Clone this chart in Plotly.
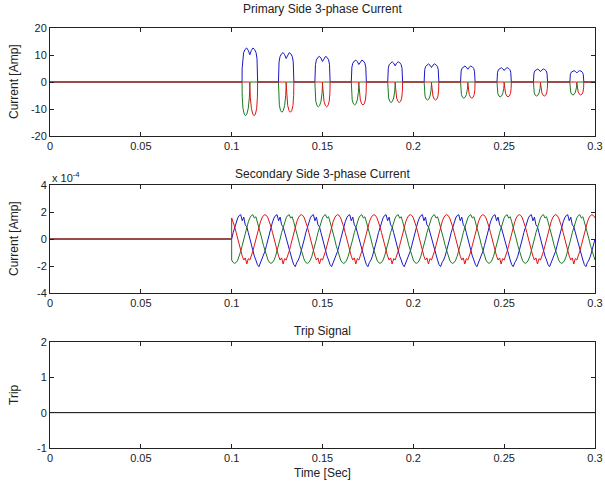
import plotly.graph_objects as go

# ---------------- data ----------------
T_END = 0.3

# Primary side: inrush-like pulses, one per cycle
PULSE_CENTERS = [0.110, 0.130, 0.150, 0.170, 0.190, 0.210, 0.230, 0.250, 0.270, 0.290]
PULSE_WIDTHS = [0.0086, 0.0085, 0.0084, 0.0083, 0.0082, 0.0081, 0.0080, 0.0079, 0.0078, 0.0077]
PULSE_POS_PEAK = [12.6, 10.9, 9.5, 8.1, 7.5, 6.7, 5.9, 5.3, 4.8, 4.2]     # blue phase
PULSE_NEG_PEAK = [12.5, 11.2, 9.2, 8.5, 7.6, 6.7, 6.0, 5.5, 5.2, 4.8]     # green / red phases

# normalised pulse outlines (u: -1..1 across pulse width, v: fraction of peak)
BLUE_U = [-1.0, -0.98, -0.92, -0.80, -0.60, -0.40, -0.20, 0.0, 0.20, 0.40, 0.60, 0.80, 0.92, 0.98, 1.0]
BLUE_V = [0.0, 0.40, 0.68, 0.86, 0.96, 1.00, 0.93, 0.80, 0.93, 1.00, 0.96, 0.86, 0.68, 0.40, 0.0]
GREEN_U = [-1.0, -0.97, -0.88, -0.72, -0.55, -0.38, -0.20, -0.06, 0.02]
GREEN_V = [0.0, -0.45, -0.78, -0.95, -1.00, -0.95, -0.78, -0.45, 0.0]
RED_U = [-0.02, 0.06, 0.20, 0.38, 0.55, 0.72, 0.88, 0.97, 1.0]
RED_V = [0.0, -0.45, -0.78, -0.95, -1.00, -0.95, -0.78, -0.45, 0.0]

# Secondary side: three-phase current (units of 1e-4 A), one cycle = 24 samples
SEC_START = 0.1
SEC_STEP = 0.02 / 24
SEC_SAMPLES = 241
SEC_CYCLE_BLUE = [1.80, 1.35, 1.62, 1.05, 0.90, 0.47, 0.00, -0.47, -0.90, -1.27, -1.56, -1.90,
                  -2.05, -1.74, -1.56, -1.27, -0.90, -0.47, 0.00, 0.47, 0.90, 1.27, 1.56, 1.74]
SEC_CYCLE_GREEN = [1.80, 1.55, 1.65, 1.27, 0.90, 0.47, 0.00, -0.47, -0.90, -1.27, -1.56, -1.74,
                   -1.80, -1.74, -1.56, -1.27, -0.90, -0.47, 0.00, 0.47, 0.90, 1.27, 1.56, 1.74]
SEC_CYCLE_RED = [1.80, 1.74, 1.56, 1.27, 0.90, 0.47, 0.00, -0.47, -0.90, -1.27, -1.56, -1.40,
                 -1.85, -1.45, -1.56, -1.27, -0.90, -0.47, 0.00, 0.47, 0.90, 1.27, 1.56, 1.74]
SEC_SHIFT_BLUE = 6
SEC_SHIFT_GREEN = 14
SEC_SHIFT_RED = -2
SEC_UNIT = 1e-4

# Trip signal
TRIP_T = [0.0, 0.3]
TRIP_V = [0.0, 0.0]

# tick labels
X_TICKS = [0, 0.05, 0.1, 0.15, 0.2, 0.25, 0.3]
X_TICKTEXT = ["0", "0.05", "0.1", "0.15", "0.2", "0.25", "0.3"]
P_TICKS = [-20, -10, 0, 10, 20]
S_TICKS = [-4, -2, 0, 2, 4]
T_TICKS = [-1, 0, 1, 2]

BLUE = "#1818c8"
GREEN = "#1a7a22"
RED = "#e01414"


def pulse_trace(u, v, peaks):
    xs, ys = [0.0], [0.0]
    for c, w, p in zip(PULSE_CENTERS, PULSE_WIDTHS, peaks):
        for ui, vi in zip(u, v):
            xs.append(c + ui * w / 2)
            ys.append(vi * p)
    xs.append(T_END)
    ys.append(0.0)
    return xs, ys


def sec_trace(table, shift):
    xs = [0.0, SEC_START]
    ys = [0.0, 0.0]
    for k in range(SEC_SAMPLES):
        xs.append(SEC_START + k * SEC_STEP)
        ys.append(table[(k - shift) % len(table)] * SEC_UNIT)
    return xs, ys


fig = go.Figure()
lw = 1

bx, by = pulse_trace(BLUE_U, BLUE_V, PULSE_POS_PEAK)
gx, gy = pulse_trace(GREEN_U, GREEN_V, PULSE_NEG_PEAK)
rx, ry = pulse_trace(RED_U, RED_V, PULSE_NEG_PEAK)
for xs, ys, col in [(bx, by, BLUE), (gx, gy, GREEN), (rx, ry, RED)]:
    fig.add_trace(go.Scatter(x=xs, y=ys, mode="lines", line=dict(color=col, width=lw),
                             xaxis="x", yaxis="y", showlegend=False, hoverinfo="skip"))

for table, shift, col in [(SEC_CYCLE_BLUE, SEC_SHIFT_BLUE, BLUE),
                          (SEC_CYCLE_GREEN, SEC_SHIFT_GREEN, GREEN),
                          (SEC_CYCLE_RED, SEC_SHIFT_RED, RED)]:
    xs, ys = sec_trace(table, shift)
    fig.add_trace(go.Scatter(x=xs, y=ys, mode="lines", line=dict(color=col, width=lw),
                             xaxis="x2", yaxis="y2", showlegend=False, hoverinfo="skip"))

fig.add_trace(go.Scatter(x=TRIP_T, y=TRIP_V, mode="lines", line=dict(color="black", width=1),
                         xaxis="x3", yaxis="y3", showlegend=False, hoverinfo="skip"))

W, H = 605, 484
XL, XR = 50, 595
panels = [(28, 136), (185, 293), (342, 448)]


def ydom(top, bot):
    return [1 - bot / H, 1 - top / H]


FAM = "Liberation Sans, Arial, sans-serif"
tick_font = dict(family=FAM, size=11, color="#222222")
text_font = dict(family=FAM, size=12, color="#222222")
axis_common = dict(showline=True, linecolor="#222222", linewidth=1, mirror="ticks",
                   ticks="inside", ticklen=4, tickcolor="#222222", showgrid=False,
                   zeroline=False, tickfont=tick_font, ticklabeloverflow="allow",
                   automargin=False)
XR_RANGE = [0, T_END * 1.00002]

layout = dict(
    width=W, height=H, autosize=False, margin=dict(l=0, r=0, t=0, b=0, pad=0),
    paper_bgcolor="white", plot_bgcolor="white", font=tick_font, showlegend=False,
    xaxis=dict(domain=[XL / W, XR / W], range=XR_RANGE, anchor="y",
               tickvals=X_TICKS, ticktext=X_TICKTEXT, **axis_common),
    yaxis=dict(domain=ydom(*panels[0]), range=[-20, 20], anchor="x",
               tickvals=P_TICKS, ticktext=[str(v) for v in P_TICKS], **axis_common),
    xaxis2=dict(domain=[XL / W, XR / W], range=XR_RANGE, anchor="y2",
                tickvals=X_TICKS, ticktext=X_TICKTEXT, **axis_common),
    yaxis2=dict(domain=ydom(*panels[1]), range=[-4 * SEC_UNIT, 4 * SEC_UNIT], anchor="x2",
                tickvals=[v * SEC_UNIT for v in S_TICKS], ticktext=[str(v) for v in S_TICKS],
                **axis_common),
    xaxis3=dict(domain=[XL / W, XR / W], range=XR_RANGE, anchor="y3",
                tickvals=X_TICKS, ticktext=X_TICKTEXT, **axis_common),
    yaxis3=dict(domain=ydom(*panels[2]), range=[-1, 2], anchor="x3",
                tickvals=T_TICKS, ticktext=[str(v) for v in T_TICKS], **axis_common),
)
fig.update_layout(**layout)

cx = (XL + XR) / 2 / W
ann = [
    dict(text="Primary Side 3-phase Current", x=cx, y=1 - 9 / H),
    dict(text="Secondary Side 3-phase Current", x=cx, y=1 - 174 / H),
    dict(text="Trip Signal", x=cx, y=1 - 331 / H),
    dict(text="Time [Sec]", x=cx, y=1 - 473 / H),
    dict(text="Current [Amp]", x=14 / W, y=1 - 82 / H, textangle=-90),
    dict(text="Current [Amp]", x=14 / W, y=1 - 239 / H, textangle=-90),
    dict(text="Trip", x=14 / W, y=1 - 395 / H, textangle=-90),
]
annotations = []
for a in ann:
    d = dict(xref="paper", yref="paper", showarrow=False, font=text_font,
             xanchor="center", yanchor="middle")
    d.update(a)
    annotations.append(d)
annotations.append(dict(text="x 10<sup>-4</sup>", xref="paper", yref="paper",
                        x=50 / W, y=1 - 177 / H, xanchor="left", yanchor="middle",
                        showarrow=False, font=tick_font))
fig.update_layout(annotations=annotations)

fig.write_html("out.html")
